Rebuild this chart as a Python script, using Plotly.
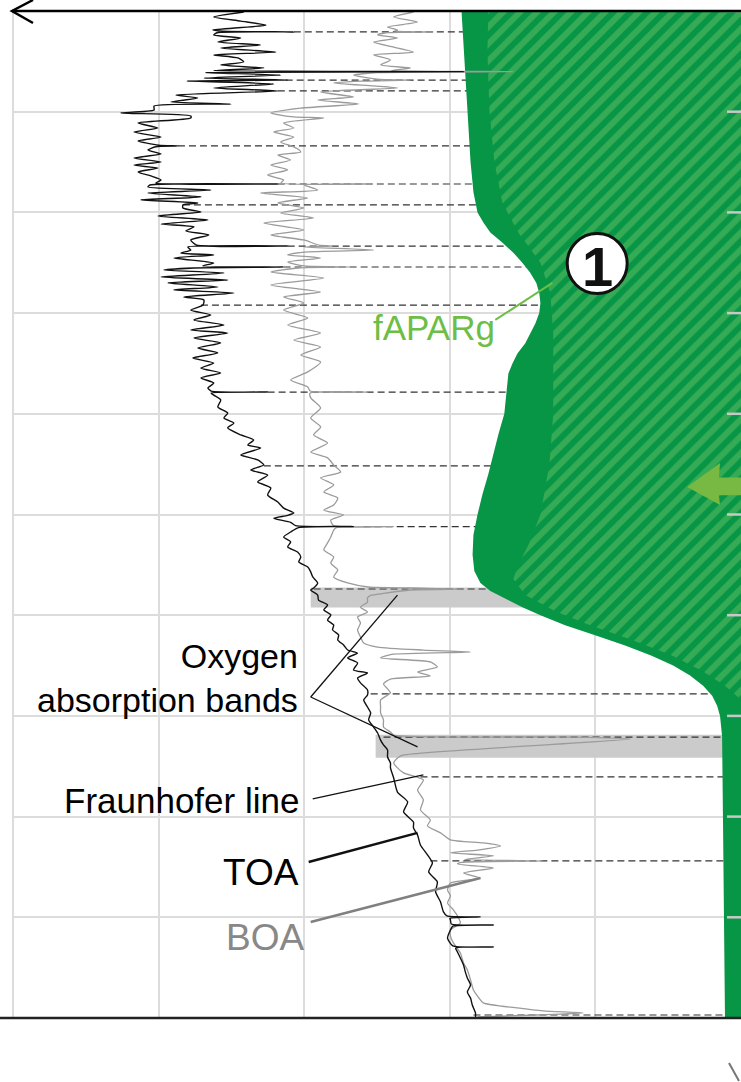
import plotly.graph_objects as go

# ---------------- data (wavelength in nm, radiance in arbitrary units) ----------------
toa_nm = [400.5, 403.0, 405.0, 407.0, 409.4, 410.0, 410.4, 410.8, 411.9, 413.4, 415.4, 416.9, 418.4, 420.4,
          421.8, 423.3, 425.3, 426.8, 428.3, 429.6, 430.1, 430.6, 431.8, 433.3, 434.3, 434.8, 436.2, 438.2,
          439.7, 441.7, 443.2, 445.2, 446.2, 447.2, 449.2, 450.6, 452.1, 453.1, 455.6, 458.1, 460.1, 462.6,
          464.5, 466.6, 467.0, 467.4, 469.0, 471.0, 473.0, 475.0, 476.5, 478.0, 479.9, 481.9, 483.9, 485.4,
          485.9, 486.4, 487.4, 488.9, 490.4, 492.3, 493.8, 495.3, 496.3, 497.8, 499.8, 501.8, 503.8, 505.8,
          507.2, 509.2, 511.2, 513.7, 516.2, 516.7, 517.2, 518.7, 520.2, 521.1, 522.6, 525.1, 526.6, 527.1,
          527.6, 528.6, 530.1, 532.1, 533.6, 535.0, 537.0, 538.5, 540.0, 542.0, 543.5, 546.0, 548.5, 550.9,
          553.4, 555.9, 558.4, 559.9, 562.4, 564.8, 567.3, 569.8, 572.3, 574.8, 577.3, 579.7, 582.2, 584.7,
          587.2, 588.7, 589.2, 589.7, 590.7, 593.1, 596.6, 599.6, 602.1, 604.6, 607.0, 610.5, 613.0, 615.5,
          617.0, 620.4, 622.9, 625.4, 627.9, 630.4, 633.8, 636.8, 640.3, 643.8, 646.8, 649.2, 650.4, 651.9,
          653.9, 655.5, 656.0, 656.5, 658.7, 661.2, 663.6, 666.1, 668.6, 671.1, 673.6, 676.1, 678.5, 681.0,
          684.0, 686.5, 687.5, 690.0, 692.5, 694.9, 697.4, 699.9, 702.4, 704.9, 707.3, 709.8, 712.3, 714.8,
          717.3, 718.8, 721.2, 723.7, 727.2, 728.7, 731.2, 733.6, 737.1, 739.6, 742.1, 745.6, 748.5, 752.0,
          755.5, 758.5, 762.0, 764.4, 766.9, 770.4, 773.4, 775.8, 780.8, 787.8, 792.7, 797.7, 802.7, 805.6,
          809.1, 814.1, 819.0, 823.0, 827.5, 832.4, 837.4, 842.4, 847.3, 849.3, 849.8, 850.5, 851.3, 853.3,
          853.8, 854.4, 856.3, 860.3, 864.2, 864.7, 865.3, 867.2, 870.2, 873.7, 877.1, 880.1, 883.6, 887.1,
          890.1, 893.5, 897.5, 899.5]
toa_rad = [170.8, 181.1, 171.8, 163.2, 181.4, 178.0, 153.6, 180.0, 181.1, 171.8, 179.7, 165.0, 178.7, 159.8,
           181.1, 172.8, 170.8, 178.7, 163.9, 181.0, 95.3, 183.8, 158.1, 184.5, 155.7, 190.3, 160.5, 181.1,
           159.1, 194.1, 186.6, 195.8, 175.2, 201.6, 201.6, 213.0, 189.0, 189.0, 207.1, 200.3, 208.5, 199.2,
           207.1, 200.0, 193.4, 201.0, 203.7, 199.2, 208.5, 199.2, 208.5, 200.3, 207.1, 202.7, 199.2, 201.0,
           159.1, 203.0, 203.7, 182.1, 203.7, 185.5, 206.1, 186.6, 191.7, 191.7, 185.5, 200.3, 183.1, 199.2,
           187.9, 190.7, 182.8, 189.0, 187.0, 155.7, 190.0, 189.0, 192.4, 181.1, 194.8, 181.1, 185.0, 157.1,
           188.0, 198.2, 177.6, 199.2, 176.3, 196.8, 179.7, 194.8, 174.2, 191.4, 184.5, 184.8, 189.0, 182.1,
           187.9, 177.6, 189.0, 176.3, 187.9, 178.7, 186.6, 179.7, 188.3, 181.1, 185.5, 178.7, 185.5, 181.1,
           183.1, 182.0, 162.6, 182.0, 181.1, 178.7, 179.7, 176.3, 177.6, 174.2, 176.3, 171.8, 167.4, 169.4,
           165.0, 171.8, 166.0, 163.9, 168.4, 162.6, 166.0, 161.5, 162.6, 159.1, 157.1, 153.6, 155.7, 160.5,
           154.7, 153.0, 133.1, 152.0, 154.7, 157.1, 154.7, 155.7, 152.3, 151.2, 151.9, 148.8, 147.8, 147.1,
           145.4, 146.8, 147.8, 145.4, 145.1, 142.0, 143.3, 140.9, 142.0, 139.9, 140.3, 138.2, 138.5, 136.5,
           135.1, 131.7, 135.1, 131.7, 133.1, 128.3, 131.7, 130.7, 128.3, 128.3, 129.6, 128.3, 127.2, 127.9,
           126.2, 124.8, 123.8, 122.8, 121.4, 121.4, 120.4, 120.4, 119.3, 118.0, 114.5, 115.9, 112.5, 112.5,
           111.1, 110.1, 107.7, 106.0, 107.3, 104.3, 104.9, 103.2, 102.2, 101.0, 89.5, 100.0, 99.8, 99.5,
           85.0, 99.0, 99.8, 100.8, 99.0, 85.0, 98.0, 97.4, 96.4, 95.3, 94.7, 94.0, 92.9, 94.0,
           92.9, 92.3, 91.2, 91.2]

boa_nm = [400.5, 403.0, 405.5, 407.9, 409.4, 410.0, 410.4, 410.8, 411.9, 413.4, 415.4, 417.9, 420.4, 421.8,
          424.3, 426.8, 428.3, 429.6, 430.1, 430.6, 431.8, 433.8, 434.3, 434.8, 435.7, 437.2, 438.2, 440.2,
          442.7, 444.2, 446.2, 448.2, 450.6, 452.6, 453.1, 455.6, 458.1, 460.1, 462.6, 465.0, 467.5, 470.0,
          471.5, 474.0, 476.5, 478.9, 481.4, 483.9, 485.4, 485.9, 486.4, 488.9, 490.4, 492.8, 495.3, 497.8,
          500.3, 502.8, 505.3, 508.7, 511.2, 513.7, 516.2, 516.7, 517.2, 518.7, 519.7, 521.1, 522.6, 524.6,
          526.6, 527.1, 527.6, 529.6, 532.6, 536.0, 539.5, 542.0, 545.0, 548.5, 552.4, 555.9, 559.9, 563.4,
          566.8, 570.8, 574.3, 579.2, 583.2, 586.7, 588.7, 589.2, 589.7, 592.1, 597.1, 602.1, 606.5, 610.5,
          614.5, 619.0, 621.9, 625.4, 628.9, 631.8, 635.3, 638.8, 641.8, 645.3, 647.8, 650.2, 652.7, 655.5,
          656.0, 656.5, 657.7, 661.2, 664.1, 667.6, 671.1, 674.1, 677.5, 681.0, 684.0, 686.0, 686.5, 687.0,
          687.5, 689.2, 690.2, 691.5, 693.5, 696.0, 698.4, 700.9, 703.9, 707.3, 710.8, 713.8, 715.8, 717.3,
          718.3, 719.5, 721.2, 723.2, 725.7, 728.2, 730.2, 731.7, 734.1, 736.6, 738.6, 742.1, 745.6, 748.5,
          752.0, 755.5, 758.0, 759.5, 760.5, 761.5, 769.4, 770.9, 773.4, 775.8, 778.3, 781.8, 786.8, 791.7,
          796.7, 801.7, 804.6, 808.1, 811.6, 813.1, 814.6, 816.6, 818.0, 819.5, 821.3, 822.0, 822.7, 823.5,
          825.5, 828.0, 830.5, 833.0, 836.4, 839.4, 842.9, 846.3, 849.3, 852.8, 856.3, 859.3, 862.7, 867.7,
          872.7, 876.1, 881.1, 886.1, 889.1, 892.5, 895.0, 896.5, 897.5, 898.5, 899.5]
boa_rad = [112.5, 119.3, 111.1, 121.4, 118.0, 119.0, 105.6, 122.0, 124.8, 118.0, 126.2, 119.3, 112.5, 126.2,
           120.4, 123.8, 113.5, 120.0, 78.2, 125.0, 133.1, 125.0, 113.5, 130.0, 139.9, 126.2, 118.0, 144.4,
           133.1, 145.4, 131.3, 151.2, 161.5, 153.6, 143.3, 157.1, 153.6, 160.5, 153.6, 158.1, 153.6, 151.2,
           159.1, 154.7, 161.5, 155.7, 162.6, 157.1, 158.0, 127.2, 150.0, 145.4, 165.0, 148.8, 159.1, 150.2,
           158.1, 146.8, 163.9, 150.2, 161.5, 150.2, 145.0, 139.9, 150.0, 126.2, 150.0, 155.7, 144.4, 155.7,
           150.0, 134.1, 152.0, 161.5, 143.3, 161.5, 144.4, 157.1, 150.2, 157.1, 148.8, 155.7, 144.4, 153.6,
           144.4, 151.2, 144.4, 148.8, 154.7, 148.8, 148.0, 128.3, 148.0, 147.8, 144.4, 147.8, 144.4, 146.8,
           142.0, 147.8, 142.0, 139.9, 137.5, 144.4, 139.9, 143.3, 138.5, 139.9, 143.3, 136.5, 140.9, 140.0,
           119.3, 139.0, 139.9, 140.9, 142.0, 143.3, 139.9, 140.9, 138.5, 139.9, 135.1, 128.0, 113.5, 95.3,
           113.5, 122.8, 127.2, 128.3, 128.3, 130.7, 128.3, 131.7, 130.7, 131.7, 130.7, 129.6, 124.8, 109.1,
           92.9, 120.0, 123.8, 106.7, 104.3, 111.1, 106.7, 120.4, 122.8, 121.4, 120.4, 123.8, 123.8, 123.8,
           122.8, 122.8, 120.4, 119.3, 60.0, 38.1, 115.9, 118.0, 119.3, 118.0, 115.9, 109.1, 111.1, 109.1,
           110.1, 106.7, 107.7, 103.2, 99.8, 88.5, 82.6, 90.5, 99.8, 85.0, 95.0, 67.9, 96.0, 97.4,
           85.0, 95.3, 89.5, 99.8, 100.8, 99.8, 100.8, 98.8, 97.4, 96.4, 99.8, 99.8, 98.8, 96.4,
           95.3, 94.0, 92.9, 91.9, 90.5, 88.5, 76.8, 67.9, 54.2, 70.0, 90.5]

# fAPARg: left edge of the solid green area
fapar_nm = [400, 425, 450, 475, 490, 500, 505, 510, 515, 520, 525, 530, 535, 540, 545, 550, 555, 560, 565,
            570, 575, 580, 590, 600, 610, 620, 630, 640, 650, 660, 670, 678, 684, 688, 692, 696, 700, 705,
            710, 715, 720, 725, 730, 735, 740, 745, 750, 760, 800, 900]
fapar_rad = [96.0, 95.0, 94.0, 92.9, 91.9, 90.5, 88.5, 86.1, 82.0, 78.2, 75.1, 72.4, 70.3, 69.3, 68.9, 69.3,
             70.6, 72.4, 74.1, 76.8, 78.5, 79.9, 80.6, 81.3, 83.3, 85.0, 86.8, 88.8, 90.5, 91.9, 92.2, 91.6,
             89.5, 86.1, 80.6, 75.1, 68.9, 60.4, 50.1, 39.8, 30.9, 23.3, 17.5, 13.0, 9.9, 8.2, 7.2, 6.5,
             6.2, 5.5]

# hatched part (left edge)
hatch_nm = [400, 420, 450, 475, 495, 510, 525, 540, 560, 600, 625, 650, 665, 675, 682, 690, 698, 705, 712,
            720, 728, 735, 742]
hatch_rad = [86.8, 87.1, 86.4, 84.7, 82.0, 76.5, 68.9, 65.5, 64.5, 64.5, 65.8, 68.9, 73.0, 76.5, 78.2, 74.1,
             63.8, 51.8, 38.1, 23.7, 13.0, 5.5, 0.0]

fraunhofer_nm = [410.4, 434.3, 439.7, 467.0, 485.9, 496.3, 516.7, 527.1, 546.0, 589.2, 625.9, 656.0, 687.0,
                 739.1, 760.5, 780.3, 822.0, 898.5]
fraunhofer_start = [153.6, 156.4, 159.1, 193.4, 159.1, 191.7, 155.7, 157.1, 185.5, 162.6, 163.9, 129.6,
                    146.8, 127.2, 122.8, 110.1, 106.7, 91.9]

o2_band_lo = [686.3, 759.3]
o2_band_hi = [696.2, 770.8]
o2_band_start = [147.8, 125.5]

grid_nm = [400, 450, 500, 550, 600, 650, 700, 750, 800, 850, 900]

# ---------------- figure ----------------
FONT = "Liberation Sans, Arial, Helvetica, sans-serif"
DARK_GREEN = "#079546"
LIGHT_STRIPE = "#66c166"
EDGE = -5  # beyond right edge of the visible plot

fig = go.Figure()

# oxygen absorption bands
for lo, hi, st in zip(o2_band_lo, o2_band_hi, o2_band_start):
    fig.add_trace(go.Scatter(x=[st, EDGE, EDGE, st, st], y=[lo, lo, hi, hi, lo], mode="lines",
                             fill="toself", fillcolor="#cbcbcb", line=dict(width=0), hoverinfo="skip"))

# Fraunhofer lines (dashed)
fx, fy = [], []
for nm, st in zip(fraunhofer_nm, fraunhofer_start):
    fx += [st, EDGE, None]
    fy += [nm, nm, None]
fig.add_trace(go.Scatter(x=fx, y=fy, mode="lines", line=dict(color="#333333", width=1.2, dash="7px,4px"),
                         hoverinfo="skip"))

# fAPARg solid green
fig.add_trace(go.Scatter(x=fapar_rad + [EDGE, EDGE], y=fapar_nm + [905, 395], mode="lines", fill="toself",
                         fillcolor=DARK_GREEN, line=dict(width=0), hoverinfo="skip"))

# hatched area
fig.add_trace(go.Scatter(x=hatch_rad + [EDGE, EDGE], y=hatch_nm + [745, 395], mode="lines", fill="toself",
                         fillcolor=DARK_GREEN, line=dict(width=0), hoverinfo="skip",
                         fillpattern=dict(shape="/", fgcolor=LIGHT_STRIPE, bgcolor=DARK_GREEN, size=12,
                                          solidity=0.5)))

# spectra
fig.add_trace(go.Scatter(x=boa_rad, y=boa_nm, mode="lines",
                         line=dict(color="#9b9b9b", width=1.3, shape="spline", smoothing=0.6),
                         hoverinfo="skip"))
fig.add_trace(go.Scatter(x=toa_rad, y=toa_nm, mode="lines",
                         line=dict(color="#111111", width=1.4, shape="spline", smoothing=0.6),
                         hoverinfo="skip"))

shapes = []
# right-side tick marks
for g in grid_nm[:-1]:
    shapes.append(dict(type="line", xref="x", yref="y", x0=4.8, x1=0, y0=g, y1=g,
                       line=dict(color="#c8c8c8", width=2.5)))

# leader lines
def leader(x0, y0, x1, y1, color, width):
    shapes.append(dict(type="line", xref="x", yref="y", x0=x0, y0=y0, x1=x1, y1=y1,
                       line=dict(color=color, width=width)))

leader(147.8, 740.6, 118.0, 690.0, "#111111", 1.3)
leader(147.8, 740.6, 111.1, 765.4, "#111111", 1.3)
leader(147.1, 791.2, 109.1, 779.3, "#111111", 1.1)
leader(148.5, 822.5, 111.1, 808.1, "#111111", 2.5)
leader(147.8, 852.3, 89.5, 830.5, "#808080", 2.5)
leader(84.4, 553.4, 64.8, 535.0, "#6dbe45", 2)

# circled "1"
shapes.append(dict(type="circle", xref="x", yref="y", x0=59.7, x1=39.1, y0=510.5, y1=540.3,
                   fillcolor="white", line=dict(color="#111111", width=3)))

# green arrow
shapes.append(dict(type="path", xref="x", yref="y",
                   path="M 18.5 636.3 L 7.2 624.4 L 7.6 631.6 L -3 631.6 L -3 640.4 L 7.6 640.4 L 7.2 645.3 Z",
                   fillcolor="#78b943", line=dict(width=0)))

# top axis with arrow, bottom axis
PW, PH = 729.0, 1007.0
shapes.append(dict(type="line", xref="paper", yref="paper", x0=0, x1=1, y0=1, y1=1,
                   line=dict(color="#000000", width=2.5)))
shapes.append(dict(type="path", xref="paper", yref="paper",
                   path=f"M {21/PW} {1+11/PH} L 0 1 L {21/PW} {1-12/PH}",
                   line=dict(color="#000000", width=2.5)))
shapes.append(dict(type="line", xref="paper", yref="paper", x0=-12/PW, x1=1, y0=0, y1=0,
                   line=dict(color="#222222", width=2.5)))
shapes.append(dict(type="line", xref="paper", yref="paper", x0=717/PW, x1=727/PW, y0=-45/PH, y1=-63/PH,
                   line=dict(color="#777777", width=2)))

annotations = []
def label(text, x, y, color, size, xanchor="right", bold=False):
    t = f"<b>{text}</b>" if bold else text
    annotations.append(dict(text=t, x=x, y=y, xref="x", yref="y", xanchor=xanchor, yanchor="middle",
                            align="right", showarrow=False, font=dict(family=FONT, size=size, color=color)))

label("Oxygen<br>absorption bands", 151.6, 731.0, "#000000", 34)
label("Fraunhofer line", 151.2, 792.0, "#000000", 35)
label("TOA", 151.2, 828.0, "#000000", 37)
label("BOA", 149.5, 860.2, "#888888", 37)
label("fAPARg", 105.3, 557.0, "#6dbe45", 35, xanchor="center")
label("1", 49.4, 527.0, "#111111", 56, xanchor="center", bold=True)

fig.update_layout(
    width=741, height=1082,
    margin=dict(l=12, r=0, t=11, b=64),
    paper_bgcolor="white", plot_bgcolor="white",
    showlegend=False, hovermode=False,
    shapes=shapes, annotations=annotations,
    xaxis=dict(range=[250.4, 0], tick0=0, dtick=50, showgrid=True, gridcolor="#dcdcdc", gridwidth=1.5,
               zeroline=False, showticklabels=False, ticks="", showline=False),
    yaxis=dict(range=[900, 400], tick0=400, dtick=50, showgrid=True, gridcolor="#dcdcdc", gridwidth=1.5,
               zeroline=False, showticklabels=False, ticks="", showline=False),
)

# remove the default page margin so the 741x1082 figure fills the window exactly
fig.write_html("out.html", config={"displayModeBar": False},
               post_script="document.body.style.margin='0';document.body.style.overflow='hidden';")
